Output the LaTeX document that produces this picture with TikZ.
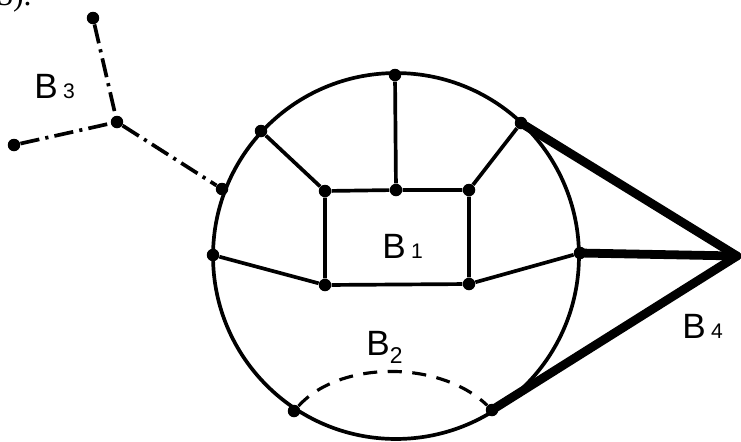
\documentclass[tikz,border=0pt]{standalone}
\usepackage{fontspec}
\setmainfont{Liberation Sans}
\newfontfamily\serifnum{Liberation Serif}
\begin{document}
\begin{tikzpicture}[x=0.02cm,y=-0.02cm,
  dot/.style={circle,fill=black,inner sep=0pt,minimum size=0.25cm},
  edge/.style={line width=2.1pt},
  heavy/.style={line width=5pt,line cap=round},
  dashdot/.style={line width=2.1pt,dash pattern=on 11pt off 3.5pt on 1.8pt off 3.5pt},
  dashedarc/.style={line width=1.8pt,dash pattern=on 8pt off 6pt},
  lab/.style={inner sep=0pt,anchor=base west}]
\useasboundingbox (0,0) rectangle (741,441);
% text fragment at top left
\node[inner sep=0pt,anchor=base west] (frag) at (-3,5) {\serifnum\fontsize{18}{18}\selectfont 5).};
% big circle
\node[draw,circle,line width=2.1pt,minimum size=7.32cm,inner sep=0pt] (C) at (396,256) {};
% points on circle
\node[dot] (top) at (395,75) {};
\node[dot] (ul) at (261,131) {};
\node[dot] (lu) at (222,189) {};
\node[dot] (l) at (213,255) {};
\node[dot] (ur) at (521,123) {};
\node[dot] (r) at (580,253) {};
\node[dot] (bl) at (294,411) {};
\node[dot] (br) at (492,410) {};
% rectangle points
\node[dot] (tl) at (325,191) {};
\node[dot] (tm) at (396,190) {};
\node[dot] (tr) at (469,190) {};
\node[dot] (rbl) at (325,285) {};
\node[dot] (rbr) at (469,284) {};
% B3 points
\node[dot] (b3t) at (93,18) {};
\node[dot] (b3c) at (117,122) {};
\node[dot] (b3l) at (14,145) {};
% tip
\coordinate (tip) at (737,256);
% edges
\draw[edge] (tl) -- (tm) -- (tr) -- (rbr) -- (rbl) -- (tl);
\draw[edge] (ul) -- (tl);
\draw[edge] (top) -- (tm);
\draw[edge] (ur) -- (tr);
\draw[edge] (l) -- (rbl);
\draw[edge] (rbr) -- (r);
% B3 dash-dot
\draw[dashdot] (b3t) -- (b3c);
\draw[dashdot] (b3l) -- (b3c);
\draw[dashdot] (b3c) -- (lu);
% B2 dashed arc
\draw[dashedarc] (bl) .. controls (340,360) and (440,360) .. (br);
% B4 heavy
\draw[heavy] (ur.center) -- (tip);
\draw[heavy] (r.center) -- (tip);
\draw[heavy] (br.center) -- (tip);
% labels
\node[lab] (L3) at (34,98) {\fontsize{20}{20}\selectfont B\hspace{3pt}\fontsize{12}{12}\selectfont 3};
\node[lab] (L1) at (382,258) {\fontsize{20}{20}\selectfont B\hspace{3pt}\fontsize{12}{12}\selectfont 1};
\node[lab] (L2) at (366,355) {\fontsize{20}{20}\selectfont B\raisebox{-5pt}{\fontsize{13}{13}\selectfont 2}};
\node[lab] (L4) at (682,338) {\fontsize{20}{20}\selectfont B\hspace{3pt}\fontsize{12}{12}\selectfont 4};
\end{tikzpicture}
\end{document}
